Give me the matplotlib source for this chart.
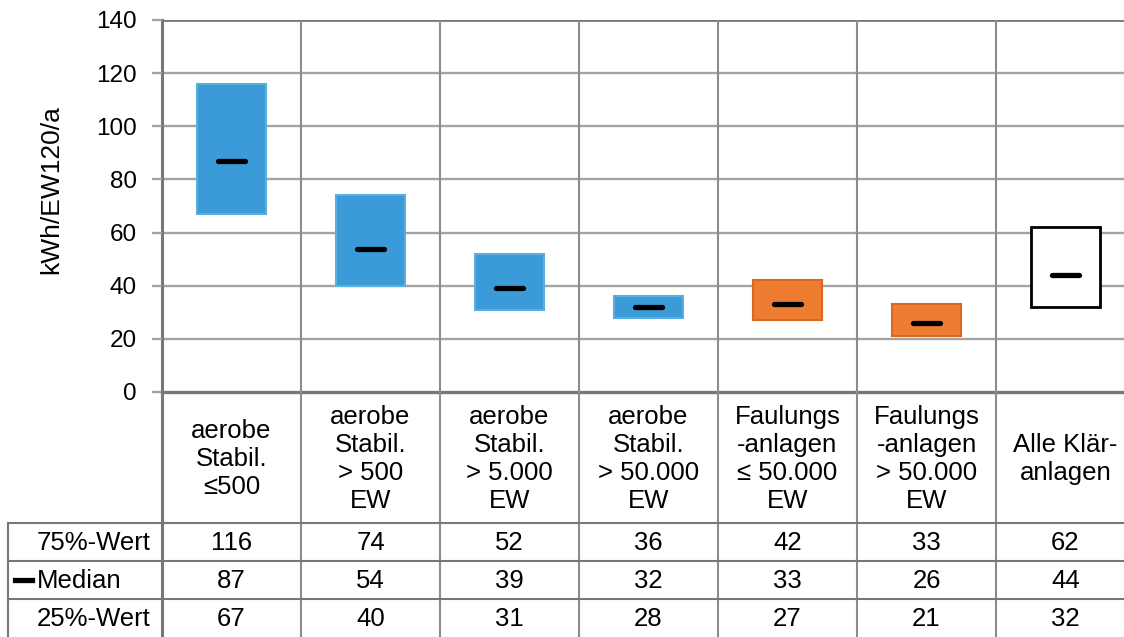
import matplotlib.pyplot as plt
from matplotlib.lines import Line2D

plt.rcParams['font.family'] = ['Liberation Sans', 'DejaVu Sans']

categories = ['aerobe\nStabil.\n≤500', 'aerobe\nStabil.\n> 500\nEW', 'aerobe\nStabil.\n> 5.000\nEW',
              'aerobe\nStabil.\n> 50.000\nEW', 'Faulungs\n-anlagen\n≤ 50.000\nEW',
              'Faulungs\n-anlagen\n> 50.000\nEW', 'Alle Klär-\nanlagen']
q75 = [116, 74, 52, 36, 42, 33, 62]
median = [87, 54, 39, 32, 33, 26, 44]
q25 = [67, 40, 31, 28, 27, 21, 32]
row_labels = ['75%-Wert', 'Median', '25%-Wert']

face = ['#3a9bd8'] * 4 + ['#ee7d31'] * 2 + ['white']
edge = ['#5aaee0'] * 4 + ['#d8691f'] * 2 + ['black']

W, H = 1124, 637
fig = plt.figure(figsize=(W / 100, H / 100), dpi=100)

x0, colw = 162, 139
ax = fig.add_axes([x0 / W, 1 - 392 / H, 7 * colw / W, (392 - 20) / H])
ax.set_xlim(-0.5, 6.5)
ax.set_ylim(0, 140)

grid_c = '#a3a3a3'
dark_c = '#777777'
for v in range(20, 140, 20):
    ax.axhline(v, color=grid_c, lw=1.7, zorder=1)
for sp in ax.spines.values():
    sp.set_visible(False)
ax.axhline(140, color=dark_c, lw=2.0, zorder=1)
ax.axhline(0, color=dark_c, lw=2.4, zorder=1, clip_on=False)
ax.axvline(-0.5, color=dark_c, lw=2.2, zorder=1, clip_on=False)

bw = 0.5
for i in range(len(categories)):
    ax.bar(i, q75[i] - q25[i], bottom=q25[i], width=bw, color=face[i],
           edgecolor=edge[i], linewidth=1.5 if i < 6 else 2.0, zorder=3)
    ax.plot([i - 0.1, i + 0.1], [median[i], median[i]], color='black', lw=3.8,
            solid_capstyle='round', zorder=4)

for i in range(6):
    ax.axvline(i + 0.5, color='#8c8c8c', lw=1.5, zorder=2)

ax.set_xticks([])
ax.set_yticks(range(0, 141, 20))
ax.tick_params(axis='y', length=7, width=1.7, color=grid_c, labelsize=17.5, pad=11)
ax.set_ylabel('kWh/EW120/a', fontsize=19)
ax.yaxis.set_label_coords(-0.102, 0.543)

# table below the chart
tb = fig.add_axes([x0 / W, 0, 7 * colw / W, (H - 392) / H])
tb.set_xlim(-0.5, 6.5)
tb.set_ylim(H, 392)
tb.axis('off')

fs = 18.5
left = -0.5 - (x0 - 8) / colw
for i in range(7):
    tb.plot([i - 0.5, i - 0.5], [392, H], color='#777777' if i == 0 else '#8c8c8c',
            lw=2.2 if i == 0 else 1.5, clip_on=False)
for yy in [523, 561, 599]:
    tb.plot([left, 6.5], [yy, yy], color='#777777', lw=1.5, clip_on=False)
tb.plot([left, left], [523, H], color='#777777', lw=1.5, clip_on=False)

for i, cat in enumerate(categories):
    tb.text(i, 459, cat, ha='center', va='center', fontsize=fs, linespacing=1.22)
    for r, vals in enumerate([q75, median, q25]):
        tb.text(i, 543 + r * 38, str(vals[i]), ha='center', va='center', fontsize=fs)

lab_x = -0.5 - (x0 - 37) / colw
for r, lab in enumerate(row_labels):
    tb.text(lab_x, 543 + r * 38, lab, ha='left', va='center', fontsize=fs, clip_on=False)
tb.add_line(Line2D([-0.5 - (x0 - 15) / colw, -0.5 - (x0 - 32) / colw], [580, 580],
                   color='black', lw=3.8, clip_on=False))

fig.savefig('out.png', dpi=100)
